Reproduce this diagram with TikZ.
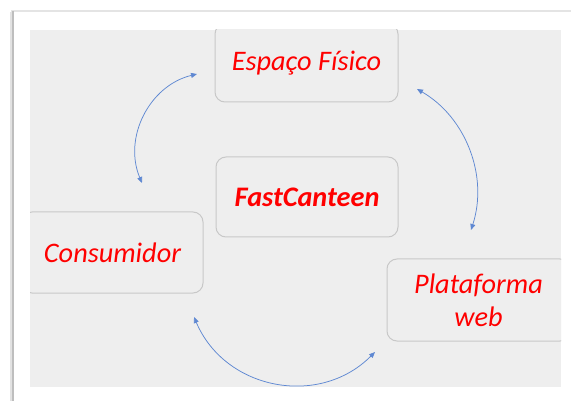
\documentclass[tikz,border=0pt]{standalone}
\usepackage{fontspec}
\setmainfont{Carlito}
\usetikzlibrary{arrows.meta}
\definecolor{panelgray}{HTML}{EEEEEE}
\definecolor{boxedge}{HTML}{C8C8C8}
\definecolor{labelred}{HTML}{FF0000}
\definecolor{linkblue}{HTML}{5F88D2}
\definecolor{frametop}{HTML}{E4E4E4}
\definecolor{frameleft}{HTML}{BEBEBE}
\definecolor{frameshade}{HTML}{E2E2E2}

\begin{document}
\begin{tikzpicture}[x=1pt,y=-1pt,
  card/.style={draw=boxedge, line width=1pt, fill=panelgray, rounded corners=10pt,
    rectangle, inner sep=0pt, text=labelred, align=center,
    font=\fontsize{28.3}{33}\selectfont\itshape},
  link/.style={draw=linkblue, line width=0.75pt,
    {Triangle[length=6pt,width=5pt]}-{Triangle[length=6pt,width=5pt]}}
]
\useasboundingbox (0,0) rectangle (571,401);
\fill[white] (0,0) rectangle (571,401);

% page frame with a soft shadow on the left
\fill[frametop] (11,10) rectangle (571,12);
\fill[frameshade] (9.5,12) rectangle (11.5,401);
\fill[frameleft] (11.5,11) rectangle (13.5,401);

% grey panel
\fill[panelgray] (30,30) rectangle (561,387);

\begin{scope}
  \clip (30,30) rectangle (561,387);
  \node[card, minimum width=183, minimum height=78] (espaco) at (306.5,63) {Espaço Físico};
  \node[card, minimum width=182, minimum height=80] (fast) at (307,197) {\bfseries FastCanteen};
  \node[card, minimum width=181, minimum height=81] (consumidor) at (112.5,252.5) {Consumidor};
  \node[card, minimum width=183, minimum height=82] (plataforma) at (478.5,300) {Plataforma\\web};
\end{scope}

% circular two-way arrows between the outer boxes
\coordinate (tlA) at (197,74);
\coordinate (tlB) at (142,183);
\coordinate (trA) at (417,89);
\coordinate (trB) at (471,230);
\coordinate (btA) at (194,317);
\coordinate (btB) at (375,352);

\draw[link] (tlA) to[bend right=49.5, looseness=1.03] (tlB);
\draw[link] (trA) to[bend left=39, looseness=0.96] (trB);
\draw[link] (btA) to[bend right=56, looseness=1.1] (btB);
\end{tikzpicture}
\end{document}
